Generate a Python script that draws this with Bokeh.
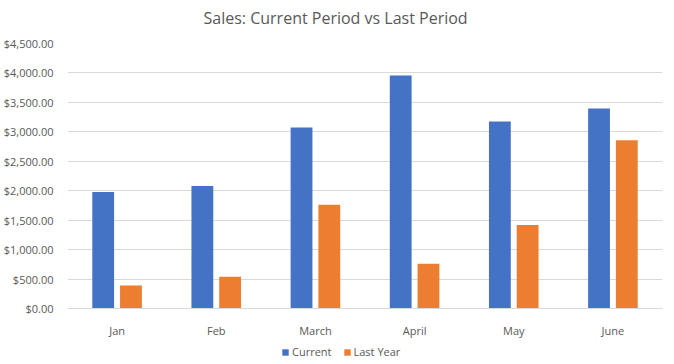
from bokeh.plotting import figure
from bokeh.layouts import column
from bokeh.models import (ColumnDataSource, FactorRange, Range1d, FixedTicker,
                          NumeralTickFormatter, Legend, LegendItem)
from bokeh.transform import dodge
from bokeh.embed import file_html
from bokeh.resources import INLINE

months = ["Jan", "Feb", "March", "April", "May", "June"]
current = [1980, 2080, 3075, 3955, 3175, 3395]
last_year = [390, 540, 1760, 760, 1420, 2855]
y_ticks = [0, 500, 1000, 1500, 2000, 2500, 3000, 3500, 4000, 4500]
series_names = ["Current", "Last Year"]
series_cols = ["current", "last_year"]
series_colors = ["#4472C4", "#ED7D31"]
offsets = [-0.14, 0.14]
title_text = "Sales: Current Period vs Last Period"

FONT = "Open Sans"
TXT = "#595959"
GRID = "#D9D9D9"

src = ColumnDataSource(dict(month=months, current=current, last_year=last_year))

# ---- title strip ----
tf = figure(width=674, height=33, output_backend="svg", toolbar_location=None,
            x_range=Range1d(0, 1), y_range=Range1d(0, 1),
            x_axis_type=None, y_axis_type=None, title=title_text,
            min_border_top=0, min_border_bottom=0,
            min_border_left=67, min_border_right=12)
tf.outline_line_color = None
tf.xgrid.grid_line_color = None
tf.ygrid.grid_line_color = None
tf.title.align = "left"
tf.title.offset = 136
tf.title.standoff = 9
tf.title.text_font = FONT
tf.title.text_font_size = "16px"
tf.title.text_font_style = "normal"
tf.title.text_color = TXT

# ---- main chart ----
p = figure(x_range=FactorRange(*months), y_range=Range1d(0, 4500),
           width=674, height=307, output_backend="svg", toolbar_location=None,
           min_border_left=67, min_border_right=12, min_border_top=10,
           min_border_bottom=30)
p.x_range.range_padding = 0

for col, color, off in zip(series_cols, series_colors, offsets):
    p.vbar(x=dodge("month", off, range=p.x_range), top=col, width=0.22,
           source=src, fill_color=color, line_color=None)

p.outline_line_color = None
p.xgrid.grid_line_color = None
p.ygrid.grid_line_color = GRID
p.ygrid.ticker = FixedTicker(ticks=y_ticks)

p.yaxis.ticker = FixedTicker(ticks=y_ticks)
p.yaxis.formatter = NumeralTickFormatter(format="$0,0.00")
p.yaxis.axis_line_color = None
p.yaxis.major_tick_line_color = None
p.yaxis.minor_tick_line_color = None
p.yaxis.major_tick_out = 0
p.yaxis.major_tick_in = 0
p.yaxis.major_label_standoff = 14
p.yaxis.major_label_text_font = FONT
p.yaxis.major_label_text_font_size = "11px"
p.yaxis.major_label_text_color = TXT

p.xaxis.axis_line_color = GRID
p.xaxis.major_tick_line_color = None
p.xaxis.minor_tick_line_color = None
p.xaxis.major_tick_out = 0
p.xaxis.major_tick_in = 0
p.xaxis.major_label_standoff = 14
p.xaxis.major_label_text_font = FONT
p.xaxis.major_label_text_font_size = "11px"
p.xaxis.major_label_text_color = TXT

# ---- legend strip (hidden renderers, only the key is drawn) ----
lg = figure(width=674, height=24, output_backend="svg", toolbar_location=None,
            x_range=p.x_range, y_range=Range1d(0, 4500),
            x_axis_type=None, y_axis_type=None,
            min_border_left=67, min_border_right=12, min_border_top=0,
            min_border_bottom=0)
lg.outline_line_color = None
lg.xgrid.grid_line_color = None
lg.ygrid.grid_line_color = None
items = []
for name, col, color, off in zip(series_names, series_cols, series_colors, offsets):
    rr = lg.vbar(x=dodge("month", off, range=lg.x_range), top=col, width=0.22,
                 source=src, fill_color=color, line_color=None, visible=False)
    items.append(LegendItem(label=name, renderers=[rr]))

legend = Legend(items=items, orientation="horizontal", location=(214, 5),
                spacing=11, padding=2, margin=0, click_policy="none",
                glyph_width=8, glyph_height=8, label_standoff=3, label_height=14,
                label_text_font=FONT, label_text_font_size="11px",
                label_text_color=TXT, border_line_color=None,
                background_fill_alpha=0, inactive_fill_alpha=0)
lg.add_layout(legend)

layout = column(tf, p, lg, spacing=0)
open("out.html", "w").write(file_html(layout, INLINE))
